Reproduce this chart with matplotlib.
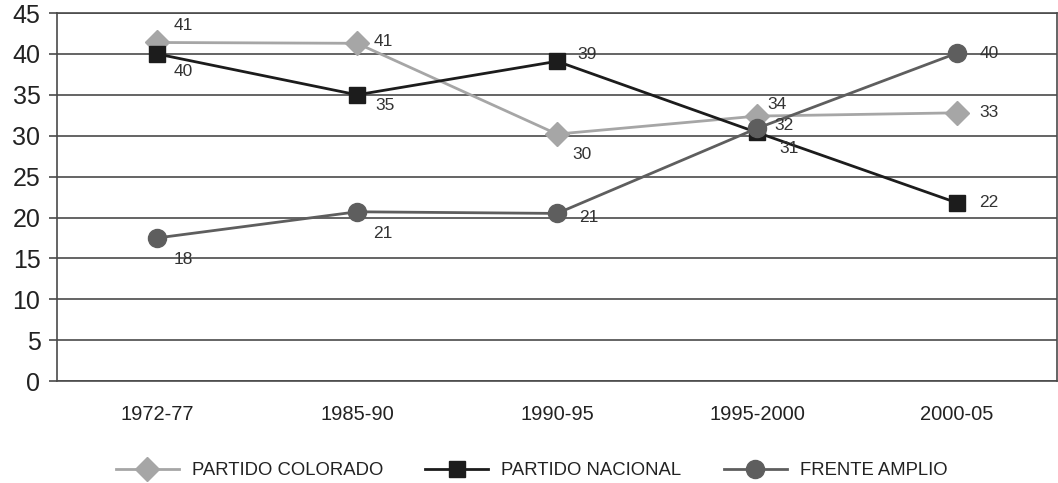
import matplotlib
matplotlib.use("Agg")
import matplotlib.pyplot as plt

periodos = ["1972-77", "1985-90", "1990-95", "1995-2000", "2000-05"]

colorado = [41.4, 41.3, 30.2, 32.4, 32.8]
nacional = [40.0, 35.0, 39.1, 30.4, 21.8]
frente = [17.5, 20.7, 20.5, 30.9, 40.1]

colorado_etiquetas = ["41", "41", "30", "34", "33"]
nacional_etiquetas = ["40", "35", "39", "31", "22"]
frente_etiquetas = ["18", "21", "21", "32", "40"]

# desplazamientos de las etiquetas en pixeles (dx, dy)
colorado_off = [(26, 17), (26, 2), (25, -20), (20, 12), (32, 0)]
nacional_off = [(26, -18), (28, -11), (30, 7), (32, -16), (32, 0)]
frente_off = [(26, -22), (26, -22), (32, -4), (27, 3), (32, 0)]

plt.rcParams["font.family"] = ["Liberation Sans", "DejaVu Sans"]

fig = plt.figure(figsize=(10.58, 4.83), dpi=100)
ax = fig.add_axes([0.054, 0.211, 0.945, 0.762])

x = list(range(len(periodos)))
gris_claro = "#a6a6a6"
negro = "#1c1c1c"
gris_osc = "#5e5e5e"
ax.plot(x, colorado, color=gris_claro, lw=2.0, marker="D", ms=12, zorder=3,
        label="PARTIDO COLORADO")
ax.plot(x, nacional, color=negro, lw=2.0, marker="s", ms=11, zorder=4,
        label="PARTIDO NACIONAL")
ax.plot(x, frente, color=gris_osc, lw=2.0, marker="o", ms=13, zorder=5,
        label="FRENTE AMPLIO")

for serie, etiquetas, offs in [(colorado, colorado_etiquetas, colorado_off),
                               (nacional, nacional_etiquetas, nacional_off),
                               (frente, frente_etiquetas, frente_off)]:
    for xi, yi, txt, (dx, dy) in zip(x, serie, etiquetas, offs):
        ax.annotate(txt, (xi, yi), xytext=(dx, dy), textcoords="offset pixels",
                    ha="center", va="center", fontsize=12.5, color="#333333",
                    zorder=6)

ax.set_xlim(-0.5, 4.5)
ax.set_ylim(0, 45)
ax.set_yticks(range(0, 46, 5))
ax.set_xticks(x)
ax.set_xticklabels(periodos)
ax.yaxis.grid(True, color="#4a4a4a", lw=1.2)
ax.set_axisbelow(True)
for s in ax.spines.values():
    s.set_color("#4a4a4a")
    s.set_linewidth(1.2)
ax.tick_params(axis="y", length=6, width=1.2, color="#4a4a4a", labelsize=18,
               labelcolor="#222222", pad=6)
ax.tick_params(axis="x", length=0, labelsize=14.5, labelcolor="#222222", pad=17)

ax.legend(loc="upper center", bbox_to_anchor=(0.4745, -0.175), ncol=3,
          frameon=False, fontsize=13.3, handlelength=3.4, handletextpad=0.7,
          columnspacing=2.3, labelcolor="#222222")

fig.savefig("out.png", dpi=100)
